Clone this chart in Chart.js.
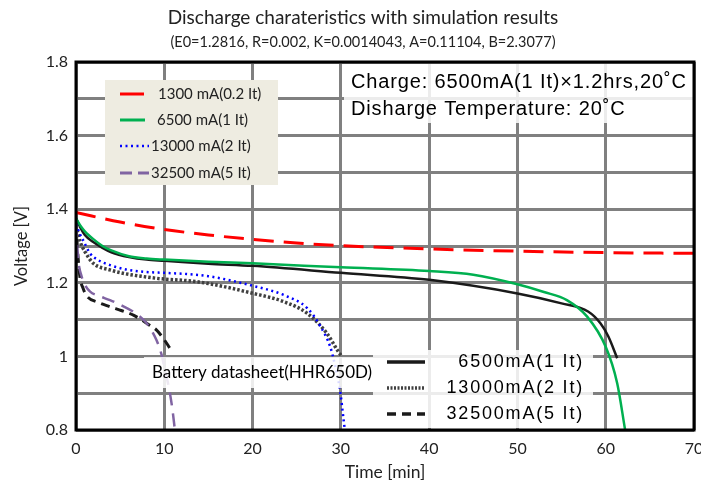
<!DOCTYPE html>
<html>
<head>
<meta charset="utf-8">
<script src="https://cdn.jsdelivr.net/npm/chart.js@4.4.0/dist/chart.umd.min.js"></script>
<style>
  html, body { margin: 0; padding: 0; background: #fff; }
</style>
</head>
<body>
<canvas id="chart" width="701" height="487"></canvas>
<script>
// texts
const titleText = 'Discharge charateristics with simulation results';
const subtitleText = '(E0=1.2816, R=0.002, K=0.0014043, A=0.11104, B=2.3077)';
const chargeNotes = ['Charge: 6500mA(1 It)\u00d71.2hrs,20\u02daC', 'Disharge Temperature: 20\u02daC'];
const datasheetNote = 'Battery datasheet(HHR650D)';

// axes
const xTicks = [0, 10, 20, 30, 40, 50, 60, 70];
const yTickLabels = [0.8, 1, 1.2, 1.4, 1.6, 1.8];

// simulation results
const simLabels = ['1300 mA(0.2 It)', '6500 mA(1 It)', '13000 mA(2 It)', '32500 mA(5 It)'];
const t1300 = [0, 5, 10, 15, 20, 25, 30, 40, 50, 60, 70];
const v1300 = [1.391, 1.365, 1.345, 1.330, 1.318, 1.308, 1.301, 1.292, 1.286, 1.282, 1.280];
const t6500 = [0, 0.5, 1, 2, 3, 4, 6, 8, 10, 15, 20, 30, 40, 45, 50, 53, 55.6, 57.9, 60, 61.3, 62.2];
const v6500 = [1.375, 1.355, 1.34, 1.318, 1.300, 1.288, 1.272, 1.266, 1.263, 1.257, 1.253, 1.242, 1.232, 1.222, 1.196, 1.175, 1.153, 1.108, 1.026, 0.927, 0.80];
const t13000 = [0, 0.4, 0.8, 1.6, 2.5, 3.85, 5.5, 7.6, 10, 12.5, 15, 20, 23.5, 26.2, 27.7, 28.8, 29.3, 29.9, 30.3, 30.45];
const v13000 = [1.36, 1.335, 1.316, 1.28, 1.262, 1.248, 1.237, 1.230, 1.227, 1.224, 1.218, 1.192, 1.167, 1.131, 1.081, 1.026, 0.98, 0.909, 0.83, 0.80];
const t32500 = [0, 0.1, 0.26, 0.64, 1.0, 1.6, 2.5, 3.85, 5.2, 6.5, 8.0, 9.1, 9.7, 10.1, 10.5, 10.9, 11.2];
const v32500 = [1.36, 1.32, 1.262, 1.217, 1.195, 1.176, 1.165, 1.153, 1.138, 1.121, 1.090, 1.045, 1.004, 0.96, 0.918, 0.86, 0.80];

// battery datasheet (HHR650D)
const sheetLabels = ['6500mA(1 It)', '13000mA(2 It)', '32500mA(5 It)'];
const tSheet6500 = [0, 0.5, 1, 2, 3, 4, 6, 8, 10, 15, 20, 30, 40, 50, 55, 58, 59.4, 60.3, 61.3];
const vSheet6500 = [1.375, 1.35, 1.33, 1.31, 1.295, 1.283, 1.270, 1.263, 1.260, 1.252, 1.246, 1.227, 1.208, 1.171, 1.144, 1.122, 1.090, 1.054, 0.995];
const tSheet13000 = [0, 0.5, 1, 1.96, 3.85, 5.5, 7.6, 10, 12.5, 15, 20.1, 23.5, 26.2, 28.4, 29.6, 30.1];
const vSheet13000 = [1.355, 1.31, 1.285, 1.253, 1.235, 1.225, 1.217, 1.210, 1.206, 1.198, 1.171, 1.149, 1.117, 1.063, 1.017, 1.0];
const tSheet32500 = [0, 0.2, 0.45, 0.8, 1.2, 2.5, 3.85, 5.2, 6.5, 7.5, 8.5, 9.1, 9.8, 10.7];
const vSheet32500 = [1.36, 1.28, 1.215, 1.185, 1.165, 1.147, 1.135, 1.124, 1.112, 1.098, 1.082, 1.072, 1.052, 1.02];

const pts = (t, v) => t.map((x, i) => ({ x: x, y: v[i] }));

function series(label, t, v, color, width, dash) {
    return {
        label: label,
        data: pts(t, v),
        borderColor: color,
        borderWidth: width,
        borderDash: dash,
        borderCapStyle: 'butt',
        pointRadius: 0,
        cubicInterpolationMode: 'monotone',
        fill: false
    };
}

const datasets = [
    series(simLabels[0], t1300, v1300, '#ff0000', 3, [20, 10]),
    series(simLabels[1], t6500, v6500, '#00b050', 2.5, []),
    series(simLabels[2], t13000, v13000, '#0000ff', 2.5, [2, 3.5]),
    series(simLabels[3], t32500, v32500, '#8064a2', 2.5, [13, 8]),
    series(sheetLabels[0], tSheet6500, vSheet6500, '#1a1a1a', 2.5, []),
    series(sheetLabels[1], tSheet13000, vSheet13000, '#404040', 3.5, [2.5, 2]),
    series(sheetLabels[2], tSheet32500, vSheet32500, '#1a1a1a', 3, [9, 6])
];

const calibri = 'Lato, "Noto Sans", sans-serif';
const arial = '"Liberation Sans", Arial, sans-serif';

function sample(ctx, ds, x1, x2, y, width, dash) {
    ctx.save();
    ctx.strokeStyle = ds.borderColor;
    ctx.lineWidth = width || ds.borderWidth;
    ctx.setLineDash(dash || ds.borderDash);
    ctx.lineCap = 'butt';
    ctx.beginPath();
    ctx.moveTo(x1, y);
    ctx.lineTo(x2, y);
    ctx.stroke();
    ctx.restore();
}

const overlay = {
    id: 'overlay',
    afterDatasetsDraw(chart) {
        const ctx = chart.ctx;
        const a = chart.chartArea;
        const ds = chart.data.datasets;
        ctx.save();

        // white note boxes
        ctx.fillStyle = 'rgba(255,255,255,0.85)';
        ctx.fillRect(144, 357, 229, 31);
        ctx.fillRect(373, 350, 220, 78);
        ctx.fillRect(344, 64, 349, 59);

        // simulation legend
        ctx.fillStyle = '#eeece1';
        ctx.fillRect(105, 80, 173, 105);
        ctx.fillStyle = '#222';
        ctx.font = '15px ' + calibri;
        ctx.textBaseline = 'middle';
        ctx.textAlign = 'left';
        const rows = [94, 120, 146, 173];
        sample(ctx, ds[0], 120, 144, rows[0], 3, []);
        sample(ctx, ds[1], 120, 145, rows[1], 3);
        sample(ctx, ds[2], 120, 149, rows[2]);
        sample(ctx, ds[3], 120, 149, rows[3], 3, [12, 6]);
        ctx.fillText(ds[0].label, 158, rows[0]);
        ctx.fillText(ds[1].label, 157, rows[1]);
        ctx.fillText(ds[2].label, 151, rows[2]);
        ctx.fillText(ds[3].label, 151, rows[3]);

        // charge notes
        ctx.fillStyle = '#000';
        ctx.font = '20px ' + arial;
        ctx.letterSpacing = '0.85px';
        ctx.fillText(chargeNotes[0], 351, 82);
        ctx.fillText(chargeNotes[1], 351, 109);

        // datasheet note and legend
        ctx.letterSpacing = '0px';
        ctx.font = '17px ' + calibri;
        ctx.fillText(datasheetNote, 152, 373);
        const rows2 = [362, 388, 414];
        ctx.font = '18px ' + arial;
        ctx.letterSpacing = '1.8px';
        ctx.textAlign = 'right';
        const dashes = [[], [2, 1.5], [9, 6]];
        for (let i = 0; i < 3; i++) {
            sample(ctx, ds[4 + i], 387, 425, rows2[i], 3.5, dashes[i]);
            ctx.fillText(ds[4 + i].label, 584, rows2[i]);
        }
        ctx.letterSpacing = '0px';

        // plot frame
        ctx.strokeStyle = '#000';
        ctx.lineWidth = 3;
        ctx.setLineDash([]);
        ctx.strokeRect(a.left, a.top, a.right - a.left, a.bottom - a.top);

        // titles
        ctx.textAlign = 'center';
        ctx.fillStyle = '#222';
        ctx.font = '19px ' + calibri;
        ctx.fillText(titleText, 363, 18);
        ctx.font = '14.5px ' + calibri;
        ctx.fillText(subtitleText, 363, 42);
        ctx.restore();
    }
};

new Chart(document.getElementById('chart'), {
    type: 'line',
    data: { datasets: datasets },
    plugins: [overlay],
    options: {
        responsive: false,
        animation: false,
        layout: { padding: { top: 62, right: 7, left: 0, bottom: 0 } },
        plugins: {
            legend: { display: false },
            tooltip: { enabled: false }
        },
        scales: {
            x: {
                type: 'linear',
                min: xTicks[0],
                max: xTicks[xTicks.length - 1],
                afterBuildTicks: scale => { scale.ticks = xTicks.map(v => ({ value: v })); },
                afterFit: scale => { scale.height = 57; scale.paddingLeft = 0; scale.paddingRight = 0; },
                border: { display: false },
                grid: { color: '#808080', lineWidth: 3, drawTicks: false },
                ticks: { padding: 9, color: '#222', font: { family: calibri, size: 16 }, maxRotation: 0 },
                title: { display: true, text: 'Time [min]', color: '#222', font: { family: calibri, size: 17.5 }, padding: { top: 0, bottom: 4 } }
            },
            y: {
                min: 0.8,
                max: 1.8,
                afterFit: scale => { scale.width = 76; scale.paddingTop = 0; scale.paddingBottom = 0; },
                border: { display: false },
                grid: { color: '#808080', lineWidth: 3, drawTicks: false },
                ticks: {
                    stepSize: 0.1,
                    autoSkip: false,
                    padding: 8,
                    color: '#222',
                    font: { family: calibri, size: 16 },
                    callback: v => yTickLabels.some(l => Math.abs(l - v) < 1e-6) ? String(Number(v.toFixed(1))) : ''
                },
                title: { display: true, text: 'Voltage [V]', color: '#222', font: { family: calibri, size: 16.5 }, padding: { top: 12, bottom: 0 } }
            }
        }
    }
});
</script>
</body>
</html>
